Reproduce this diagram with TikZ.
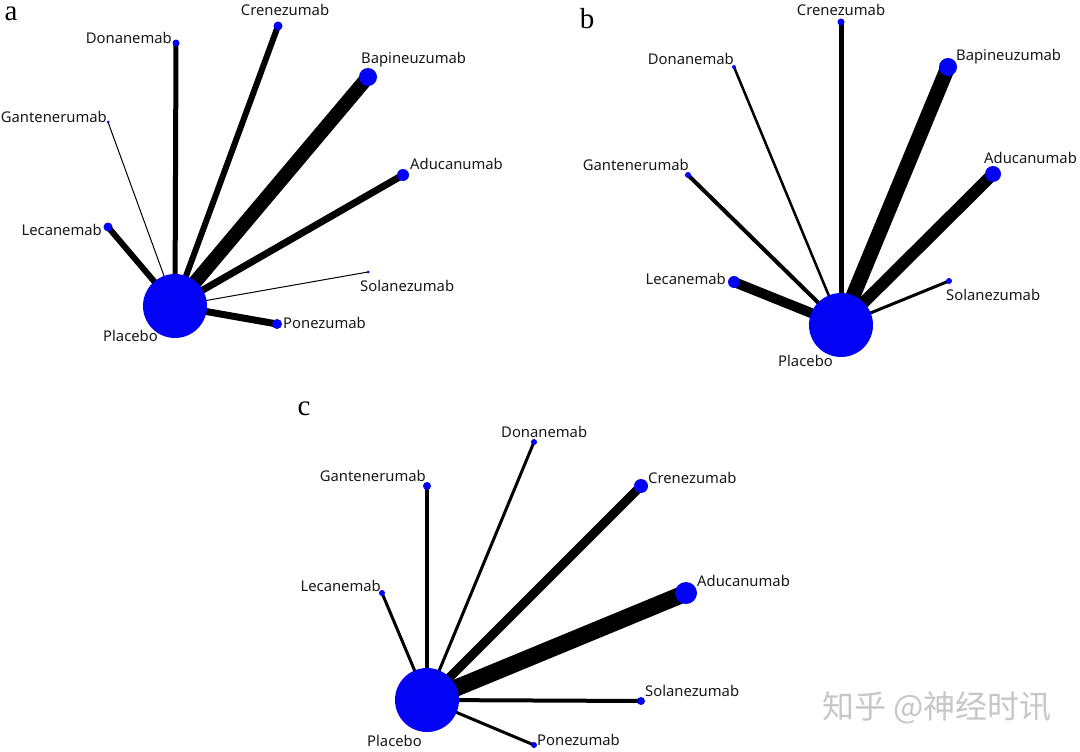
\documentclass[tikz,border=0pt]{standalone}
\usepackage{fontspec}
\newfontfamily\labfont{Noto Sans}
\newfontfamily\panfont{Liberation Serif}
\newfontfamily\cjk{Noto Sans CJK SC}
\pgfdeclarelayer{paper}
\pgfdeclarelayer{edges}
\pgfsetlayers{paper,edges,main}
\definecolor{nodeblue}{RGB}{2,2,245}
\tikzset{
  dot/.style={circle,fill=nodeblue,draw=none,inner sep=0pt,minimum size=#1},
  lab/.style={font=\labfont\fontsize{14.8}{17}\selectfont,inner sep=0pt,text=black!90},
  pan/.style={font=\panfont\fontsize{29}{31}\selectfont,inner sep=0pt},
  edge/.style={draw=black,line width=#1}
}
\begin{document}
\begin{tikzpicture}[x=1pt,y=-1pt]
\useasboundingbox (0,0) rectangle (1080,752);
\begin{pgfonlayer}{paper}
\fill[white] (0,0) rectangle (1080,752);
\end{pgfonlayer}
% ---------------- panel a
\node[pan] (pa) at (11,14) {a};
\node[dot=64] (aP) at (175,306) {};
\node[dot=7] (aDo) at (176,43) {};
\node[dot=9] (aCr) at (278,26) {};
\node[dot=18] (aBa) at (368,77) {};
\node[dot=3] (aGa) at (108,122) {};
\node[dot=12] (aAd) at (403,175) {};
\node[dot=9] (aLe) at (108,227) {};
\node[dot=3] (aSo) at (368,272) {};
\node[dot=10] (aPo) at (277,324) {};
\begin{pgfonlayer}{edges}
\draw[edge=5] (aP.center) -- (aDo.center);
\draw[edge=6] (aP.center) -- (aCr.center);
\draw[edge=14] (aP.center) -- (aBa.center);
\draw[edge=1] (aP.center) -- (aGa.center);
\draw[edge=7] (aP.center) -- (aAd.center);
\draw[edge=6] (aP.center) -- (aLe.center);
\draw[edge=1] (aP.center) -- (aSo.center);
\draw[edge=7] (aP.center) -- (aPo.center);
\end{pgfonlayer}
\node[lab,anchor=east] (laP) at (158,336) {Placebo};
\node[lab,anchor=east] (laDo) at (172,38) {Donanemab};
\node[lab] (laCr) at (285,10) {Crenezumab};
\node[lab,anchor=west] (laBa) at (361,60) {Bapineuzumab};
\node[lab,anchor=east] (laGa) at (107,117) {Gantenerumab};
\node[lab,anchor=west] (laAd) at (410,164) {Aducanumab};
\node[lab,anchor=east] (laLe) at (102,230) {Lecanemab};
\node[lab,anchor=west] (laSo) at (360,286) {Solanezumab};
\node[lab,anchor=west] (laPo) at (283,323) {Ponezumab};
% ---------------- panel b
\node[pan] (pb) at (587,19) {b};
\node[dot=64] (bP) at (841,325) {};
\node[dot=7] (bCr) at (841,22) {};
\node[dot=4] (bDo) at (734,67) {};
\node[dot=18] (bBa) at (948,67) {};
\node[dot=6] (bGa) at (688,175) {};
\node[dot=16] (bAd) at (993,174) {};
\node[dot=12] (bLe) at (734,282) {};
\node[dot=6] (bSo) at (949,281) {};
\begin{pgfonlayer}{edges}
\draw[edge=5] (bP.center) -- (bCr.center);
\draw[edge=2.5] (bP.center) -- (bDo.center);
\draw[edge=15] (bP.center) -- (bBa.center);
\draw[edge=4] (bP.center) -- (bGa.center);
\draw[edge=12] (bP.center) -- (bAd.center);
\draw[edge=10] (bP.center) -- (bLe.center);
\draw[edge=3] (bP.center) -- (bSo.center);
\end{pgfonlayer}
\node[lab,anchor=east] (lbP) at (833,361) {Placebo};
\node[lab] (lbCr) at (841,10) {Crenezumab};
\node[lab,anchor=east] (lbDo) at (734,59) {Donanemab};
\node[lab,anchor=west] (lbBa) at (956,57) {Bapineuzumab};
\node[lab,anchor=east] (lbGa) at (689,165) {Gantenerumab};
\node[lab,anchor=west] (lbAd) at (984,158) {Aducanumab};
\node[lab,anchor=east] (lbLe) at (726,279) {Lecanemab};
\node[lab,anchor=west] (lbSo) at (946,295) {Solanezumab};
% ---------------- panel c
\node[pan] (pc) at (304,409) {c};
\node[dot=64] (cP) at (427,700) {};
\node[dot=6] (cDo) at (534,442) {};
\node[dot=8] (cGa) at (427,486) {};
\node[dot=14] (cCr) at (641,486) {};
\node[dot=22] (cAd) at (686,593) {};
\node[dot=6] (cLe) at (382,593) {};
\node[dot=8] (cSo) at (641,701) {};
\node[dot=6] (cPo) at (534,745) {};
\begin{pgfonlayer}{edges}
\draw[edge=3] (cP.center) -- (cDo.center);
\draw[edge=4] (cP.center) -- (cGa.center);
\draw[edge=9] (cP.center) -- (cCr.center);
\draw[edge=17] (cP.center) -- (cAd.center);
\draw[edge=3] (cP.center) -- (cLe.center);
\draw[edge=4] (cP.center) -- (cSo.center);
\draw[edge=3] (cP.center) -- (cPo.center);
\end{pgfonlayer}
\node[lab,anchor=east] (lcP) at (422,741) {Placebo};
\node[lab,anchor=west] (lcDo) at (501,432) {Donanemab};
\node[lab,anchor=east] (lcGa) at (426,476) {Gantenerumab};
\node[lab,anchor=west] (lcCr) at (648,478) {Crenezumab};
\node[lab,anchor=west] (lcAd) at (697,581) {Aducanumab};
\node[lab,anchor=east] (lcLe) at (381,586) {Lecanemab};
\node[lab,anchor=west] (lcSo) at (645,691) {Solanezumab};
\node[lab,anchor=west] (lcPo) at (537,740) {Ponezumab};
% watermark
\node[font=\cjk\fontsize{32}{34}\selectfont,text=black!22,inner sep=0pt,anchor=west] (wm) at (822,708) {知乎 @神经时讯};
\end{tikzpicture}
\end{document}
